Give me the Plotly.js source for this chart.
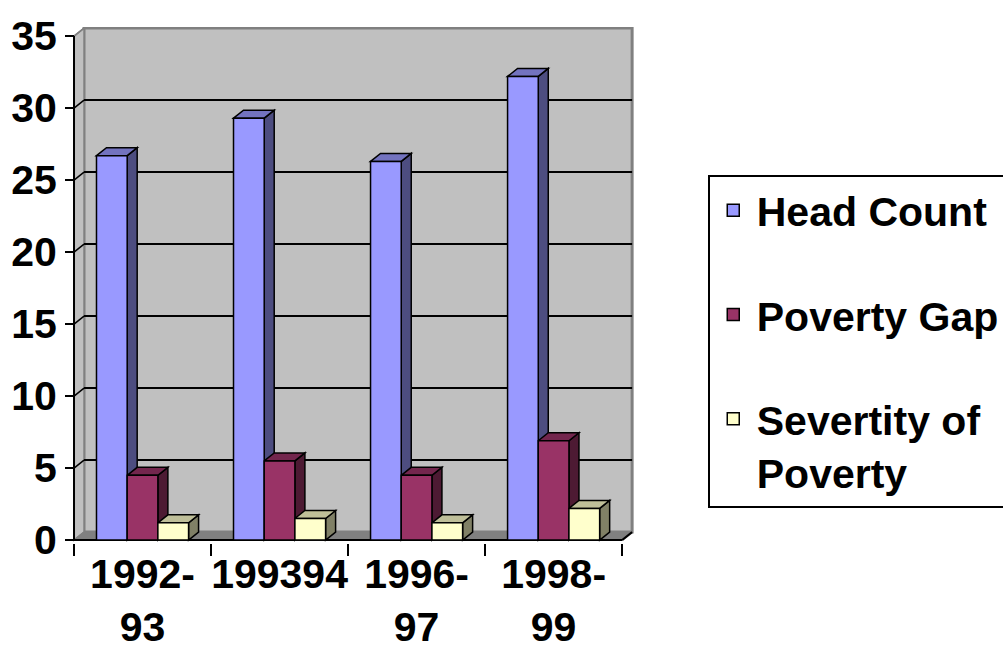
<!DOCTYPE html>
<html>
<head>
<meta charset="utf-8">
<script src="https://cdn.plot.ly/plotly-3.0.1.min.js"></script>
<style>html,body{margin:0;padding:0;background:#fff}#chart{width:1003px;height:651px}</style>
</head>
<body>
<div id="chart"></div>
<script>
// ---- data ----
const categories = ['1992-<br>93', '199394', '1996-<br>97', '1998-<br>99'];
const seriesNames = ['Head Count', 'Poverty Gap', 'Severtity of<br>Poverty'];
const headCount = [26.7, 29.3, 26.3, 32.2];
const povertyGap = [4.5, 5.5, 4.5, 6.9];
const severity = [1.2, 1.5, 1.2, 2.2];
const yTickValues = [0, 5, 10, 15, 20, 25, 30, 35];

// ---- styles ----
const frontColors = ['#9999FF', '#993366', '#FFFFCC'];
const topColors = ['#7373BF', '#73264D', '#BFBF99'];
const sideColors = ['#4D4D80', '#4D1A33', '#808066'];
const FONT = 'Liberation Sans, Arial, sans-serif';
const FS = 41;

const seriesValues = [headCount, povertyGap, severity];
const idx = categories.map((c, i) => i);
const W = 0.224;          // bar width (category units)
const DX = 0.073;         // depth offset x
const DY = 0.556;         // depth offset y
const yMax = yTickValues[yTickValues.length - 1];
const xLo = -0.5, xHi = categories.length - 0.5;

const shapes = [];
// back wall
shapes.push({type: 'rect', layer: 'below', xref: 'x', yref: 'y', x0: xLo + DX, x1: xHi + DX, y0: DY, y1: yMax + DY,
  fillcolor: '#C0C0C0', line: {color: '#808080', width: 3}});
// left wall
shapes.push({type: 'path', layer: 'below', xref: 'x', yref: 'y',
  path: `M${xLo},0 L${xLo},${yMax} L${xLo + DX},${yMax + DY} L${xLo + DX},${DY} Z`,
  fillcolor: '#C0C0C0', line: {color: '#808080', width: 1.5}});
// floor
shapes.push({type: 'path', layer: 'below', xref: 'x', yref: 'y',
  path: `M${xLo},0 L${xLo + DX},${DY} L${xHi + DX},${DY} L${xHi},0 Z`,
  fillcolor: '#808080', line: {width: 0}});
// gridlines on back wall + diagonals on left wall
yTickValues.forEach(v => {
  const inner = v > 0 && v < yMax;
  if (inner) {
    shapes.push({type: 'line', layer: 'below', xref: 'x', yref: 'y', x0: xLo + DX, x1: xHi + DX, y0: v + DY, y1: v + DY,
      line: {color: '#000', width: 2}});
  }
  shapes.push({type: 'line', layer: 'below', xref: 'x', yref: 'y', x0: xLo, x1: xLo + DX, y0: v, y1: v + DY,
    line: {color: inner ? '#000' : '#808080', width: 1.5}});
});
// axis lines
shapes.push({type: 'line', layer: 'below', xref: 'x', yref: 'y', x0: xLo, x1: xLo, y0: 0, y1: yMax, line: {color: '#000', width: 2}});
shapes.push({type: 'line', layer: 'below', xref: 'x', yref: 'y', x0: xLo, x1: xHi, y0: 0, y1: 0, line: {color: '#000', width: 2}});
shapes.push({type: 'line', layer: 'below', xref: 'x', yref: 'y', x0: xHi, x1: xHi + DX, y0: 0, y1: DY, line: {color: '#000', width: 2}});

// 3D faces of bars
idx.forEach(i => {
  seriesValues.forEach((vals, k) => {
    const xl = i + (k - 1.5) * W, xr = xl + W, v = vals[i];
    shapes.push({type: 'path', layer: 'below', xref: 'x', yref: 'y',
      path: `M${xr},0 L${xr + DX},${DY} L${xr + DX},${v + DY} L${xr},${v} Z`,
      fillcolor: sideColors[k], line: {color: '#000', width: 1.5}});
    shapes.push({type: 'path', layer: 'below', xref: 'x', yref: 'y',
      path: `M${xl},${v} L${xl + DX},${v + DY} L${xr + DX},${v + DY} L${xr},${v} Z`,
      fillcolor: topColors[k], line: {color: '#000', width: 1.5}});
  });
});

const traces = seriesValues.map((vals, k) => ({
  type: 'bar', name: seriesNames[k], x: idx, y: vals, width: W, offset: (k - 1.5) * W,
  legendgroup: 'g' + k,
  marker: {color: frontColors[k], line: {color: '#000', width: 1.5}},
  hoverinfo: 'y+name'
}));
traces.push({type: 'scatter', x: [0], y: [0], xaxis: 'x2', mode: 'markers', marker: {opacity: 0}, showlegend: false, hoverinfo: 'skip'});

const xRange = [xLo - 0.022, xHi + DX + 0.021];
const layout = {
  width: 1003, height: 651,
  margin: {l: 71, r: 368, t: 27, b: 108, autoexpand: false},
  paper_bgcolor: '#fff', plot_bgcolor: '#fff',
  barmode: 'overlay',
  font: {family: FONT, color: '#000', size: FS, weight: 700},
  xaxis: {range: xRange, tickvals: idx, ticktext: categories, ticks: '', showgrid: false, zeroline: false, showline: false,
    ticklabelstandoff: 3, automargin: false,
    tickfont: {family: FONT, size: FS, color: '#000', weight: 700}, fixedrange: true},
  xaxis2: {overlaying: 'x', anchor: 'y', range: xRange, tickvals: idx.map(i => i - 0.5).concat([xHi]), ticks: 'outside',
    ticklen: 12, tickwidth: 2, tickcolor: '#000', showticklabels: false, showgrid: false, zeroline: false, showline: false},
  yaxis: {range: [-0.2, yMax + DY + 0.077], tickvals: yTickValues, ticks: 'outside', ticklen: 9, tickwidth: 2, tickcolor: '#000',
    showgrid: false, zeroline: false, showline: false, anchor: 'free', position: 3 / 564, automargin: false,
    tickfont: {family: FONT, size: FS, color: '#000', weight: 700}, fixedrange: true},
  showlegend: true,
  legend: {x: 1.129, y: 0.713, xanchor: 'left', yanchor: 'top', bgcolor: '#fff', bordercolor: '#000', borderwidth: 2,
    traceorder: 'grouped', tracegroupgap: 48, valign: 'top', itemwidth: 37,
    font: {family: FONT, size: FS, color: '#000', weight: 700}},
  shapes: shapes
};
Plotly.newPlot('chart', traces, layout, {displayModeBar: false, staticPlot: true});
</script>
</body>
</html>
